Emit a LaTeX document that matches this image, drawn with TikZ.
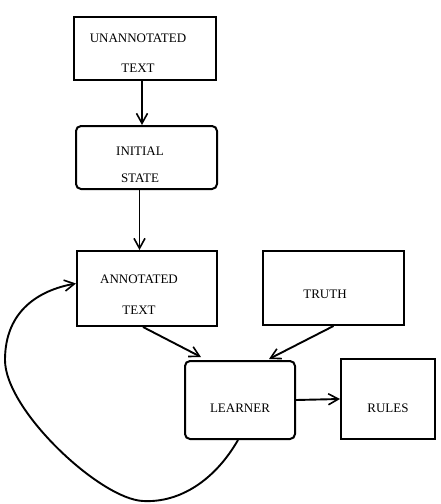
\documentclass[tikz,border=0pt]{standalone}
\usepackage{fontspec}
\setmainfont{Liberation Serif}
\usetikzlibrary{arrows.meta,calc}
\begin{document}
\begin{tikzpicture}[x=1pt,y=-1pt,
  box/.style={draw,line width=2pt,inner sep=0pt},
  rbox/.style={box,rounded corners=5pt},
  lbl/.style={inner sep=0pt,font=\fontsize{13}{14}\selectfont},
  conn/.style={line width=1.9pt,-{Straight Barb[length=10pt,width=11pt,line width=1.6pt]}}]
\useasboundingbox (0,0) rectangle (440,504);
% boxes
\node[box,minimum width=142pt,minimum height=63pt] (unann) at (145,48.5) {};
\node[rbox,minimum width=141pt,minimum height=63pt] (init) at (146.5,157.5) {};
\node[box,minimum width=140pt,minimum height=75pt] (ann) at (147,288.5) {};
\node[box,minimum width=141pt,minimum height=74pt] (truth) at (333.5,288) {};
\node[rbox,minimum width=110pt,minimum height=78pt] (learn) at (240,400) {};
\node[box,minimum width=94pt,minimum height=80pt] (rules) at (388,399) {};
% texts
\node[lbl] (t1a) at (138,38) {UNANNOTATED};
\node[lbl] (t1b) at (138,68) {TEXT};
\node[lbl] (t2a) at (140,151) {INITIAL};
\node[lbl] (t2b) at (140,178) {STATE};
\node[lbl] (t3a) at (139,279) {ANNOTATED};
\node[lbl] (t3b) at (139,310) {TEXT};
\node[lbl] (t4) at (325,294) {TRUTH};
\node[lbl] (t5) at (240,408) {LEARNER};
\node[lbl] (t6) at (388,408) {RULES};
% connectors
\draw[conn] ([xshift=-3pt]unann.south) -- ([xshift=-3pt]unann.south |- init.north);
\draw[conn] ([xshift=-7pt]init.south) -- ([xshift=-7pt]init.south |- ann.north);
\draw[conn] ([xshift=-4pt]ann.south) -- ($(learn.north west)+(17,-3)$);
\draw[conn] (truth.south) -- ($(learn.north east)+(-27,-1)$);
\draw[conn] (learn.east) -- (rules.west);
\draw[conn] ([xshift=-2pt]learn.south) .. controls (215,480) and (180,503) .. (143,501)
  .. controls (100,499) and (5,410) .. (5,360)
  .. controls (5,310) and (40,290) .. ([yshift=5pt]ann.west);
\end{tikzpicture}
\end{document}
